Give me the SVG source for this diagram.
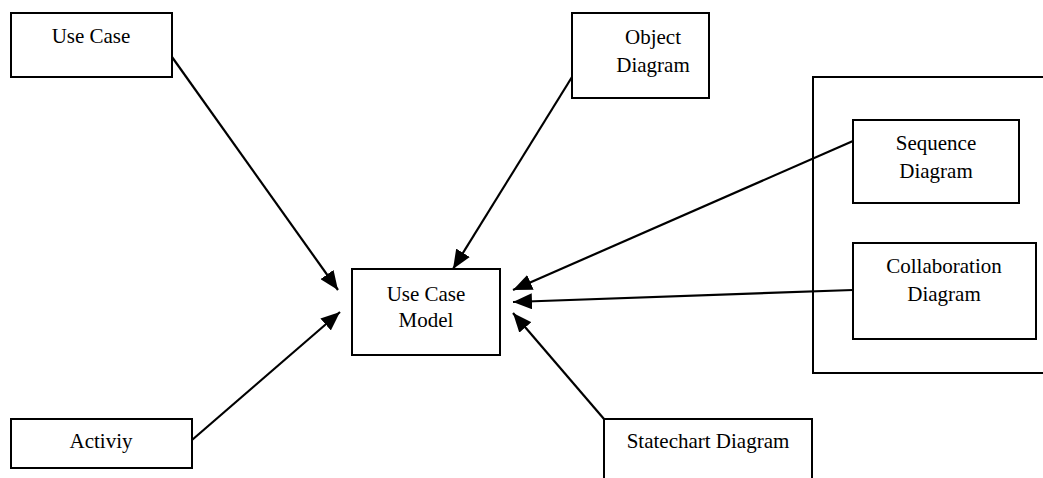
<svg xmlns="http://www.w3.org/2000/svg" width="1043" height="478" viewBox="0 0 1043 478">
<style>
.box{fill:#fff;stroke:#000;stroke-width:2}
.frame{fill:none;stroke:#000;stroke-width:2}
.lbl{font-family:"Liberation Serif","Times New Roman",serif;font-size:21px;fill:#000;text-anchor:middle}
.conn{stroke:#000;stroke-width:2.2;fill:none;marker-end:url(#ah)}
</style>
<defs>
<marker id="ah" markerUnits="userSpaceOnUse" markerWidth="20" markerHeight="16" refX="19" refY="8" orient="auto">
<path d="M0,0 L19,8 L0,16 Z" fill="#000"/>
</marker>
</defs>
<rect x="0" y="0" width="1043" height="478" fill="#fff"/>
<g id="container"><rect class="frame" x="813" y="77" width="240" height="296"/></g>
<g id="use-case"><rect class="box" x="11" y="13" width="161" height="64"/><text class="lbl" x="91" y="43">Use Case</text></g>
<g id="object-diagram"><rect class="box" x="572" y="13" width="137" height="85"/><text class="lbl" x="653" y="44">Object</text><text class="lbl" x="653" y="72">Diagram</text></g>
<g id="sequence-diagram"><rect class="box" x="853" y="120" width="166" height="83"/><text class="lbl" x="936" y="150">Sequence</text><text class="lbl" x="936" y="178">Diagram</text></g>
<g id="collaboration-diagram"><rect class="box" x="853" y="243" width="183" height="96"/><text class="lbl" x="944" y="273">Collaboration</text><text class="lbl" x="944" y="301">Diagram</text></g>
<g id="use-case-model"><rect class="box" x="352" y="269" width="148" height="86"/><text class="lbl" x="426" y="301">Use Case</text><text class="lbl" x="426" y="327">Model</text></g>
<g id="activiy"><rect class="box" x="11" y="419" width="181" height="49"/><text class="lbl" x="101" y="448">Activiy</text></g>
<g id="statechart-diagram"><rect class="box" x="604" y="419" width="208" height="70"/><text class="lbl" x="708" y="448">Statechart Diagram</text></g>
<g id="connectors">
<line class="conn" x1="172" y1="57" x2="338" y2="290"/>
<line class="conn" x1="572" y1="77" x2="453" y2="269"/>
<line class="conn" x1="853" y1="141" x2="513" y2="290"/>
<line class="conn" x1="853" y1="290" x2="513" y2="302"/>
<line class="conn" x1="604" y1="419" x2="513" y2="313"/>
<line class="conn" x1="192" y1="440" x2="340" y2="312"/>
</g>
</svg>
